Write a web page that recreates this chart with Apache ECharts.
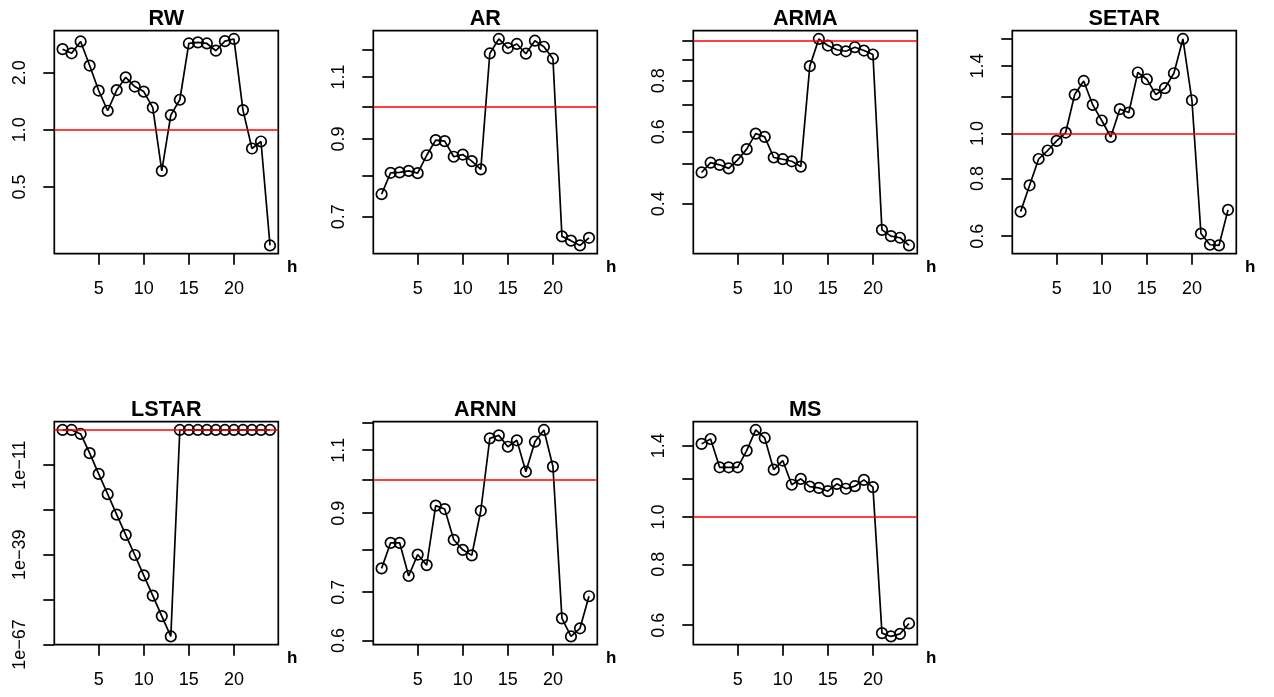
<!DOCTYPE html>
<html><head><meta charset="utf-8">
<script src="https://cdn.jsdelivr.net/npm/echarts@6/dist/echarts.min.js"></script>
<style>html,body{margin:0;padding:0;background:#fff}#c{width:1274px;height:697px}</style>
</head><body><div id="c"></div>
<script>
// ---- data ----
const h = [1,2,3,4,5,6,7,8,9,10,11,12,13,14,15,16,17,18,19,20,21,22,23,24];
const rw    = [2.66,2.53,2.92,2.18,1.61,1.26,1.62,1.89,1.69,1.59,1.31,0.608,1.195,1.44,2.85,2.89,2.85,2.61,2.93,3.01,1.27,0.797,0.868,0.246];
const ar    = [0.753,0.807,0.808,0.812,0.806,0.854,0.897,0.894,0.850,0.856,0.838,0.816,1.187,1.244,1.208,1.224,1.186,1.237,1.213,1.167,0.657,0.648,0.638,0.654];
const arma  = [0.477,0.504,0.498,0.488,0.512,0.544,0.594,0.583,0.519,0.514,0.508,0.493,0.869,1.013,0.976,0.953,0.945,0.967,0.949,0.928,0.345,0.333,0.330,0.316];
const setar = [0.678,0.773,0.881,0.919,0.964,1.005,1.214,1.299,1.153,1.067,0.983,1.129,1.110,1.355,1.310,1.214,1.253,1.350,1.601,1.180,0.608,0.575,0.573,0.684];
const lstar = [1,1,0.056,5.6e-8,1.9e-14,8.4e-21,3.6e-27,1.6e-33,8.7e-40,3.8e-46,1.7e-52,7.2e-59,3.1e-65,1,1,1,1,1,1,1,1,1,1,1];
const arnn  = [0.755,0.819,0.819,0.737,0.789,0.763,0.922,0.912,0.827,0.801,0.787,0.907,1.142,1.153,1.112,1.135,1.027,1.130,1.173,1.044,0.644,0.608,0.624,0.691];
const ms    = [1.413,1.446,1.265,1.265,1.265,1.369,1.509,1.453,1.251,1.306,1.165,1.198,1.155,1.148,1.130,1.170,1.143,1.157,1.192,1.152,0.578,0.569,0.576,0.605];

const titles = ['RW','AR','ARMA','SETAR','LSTAR','ARNN','MS'];
const xTicks = [5,10,15,20];
const rwTicks = [0.5,1,2],                      rwLabels = [0.5,1,2];
const arTicks = [0.7,0.8,0.9,1.0,1.1,1.2],      arLabels = [0.7,0.9,1.1];
const armaTicks = [0.4,0.5,0.6,0.7,0.8,0.9,1.0], armaLabels = [0.4,0.6,0.8];
const setarTicks = [0.6,0.8,1.0,1.2,1.4,1.6],   setarLabels = [0.6,0.8,1.0,1.4];
const lstarTicks = [1e-67,1e-53,1e-39,1e-25,1e-11], lstarLabels = [1e-67,1e-39,1e-11];
const arnnTicks = [0.6,0.7,0.8,0.9,1.0,1.1,1.2], arnnLabels = [0.6,0.7,0.9,1.1];
const msTicks = [0.6,0.8,1.0,1.2,1.4],          msLabels = [0.6,0.8,1.0,1.4];
const refValue = 1;
const xLabelName = 'h';

// ---- layout & style ----
const FONT = '"Liberation Sans", Arial, Helvetica, sans-serif';
const colLeft = [54.3, 373.3, 693.3, 1012.3];
const rowTop = [30.7, 421.7];
const boxW = 224, boxH = 223;
const LW = 1.7;

const decFmt = v => (+v).toFixed(1);
const expFmt = v => '1e\u2212' + Math.round(-Math.log10(v));

const panels = [
  {vals: rw, ticks: rwTicks, labels: rwLabels, fmt: decFmt},
  {vals: ar, ticks: arTicks, labels: arLabels, fmt: decFmt},
  {vals: arma, ticks: armaTicks, labels: armaLabels, fmt: decFmt},
  {vals: setar, ticks: setarTicks, labels: setarLabels, fmt: decFmt},
  {vals: lstar, ticks: lstarTicks, labels: lstarLabels, fmt: expFmt},
  {vals: arnn, ticks: arnnTicks, labels: arnnLabels, fmt: decFmt},
  {vals: ms, ticks: msTicks, labels: msLabels, fmt: decFmt}
];

// R-style 4% extension of the data range (in log space for y)
function logRange(vals){
  const l = vals.map(v => Math.log(v));
  const lo = Math.min(...l), hi = Math.max(...l), d = (hi - lo) * 0.04;
  return [Math.exp(lo - d), Math.exp(hi + d)];
}
const hSpan = h[h.length-1] - h[0];
const xMin = h[0] - 0.04 * hSpan, xMax = h[h.length-1] + 0.04 * hSpan;

const grids = [], xAxes = [], yAxes = [], series = [], graphics = [];
panels.forEach((p, i) => {
  const r = Math.floor(i / 4), c = i % 4;
  const L = colLeft[c], T = rowTop[r];
  grids.push({left: L, top: T, width: boxW, height: boxH, show: true,
    borderColor: '#000', borderWidth: LW, backgroundColor: 'transparent',
    containLabel: false, outerBoundsMode: 'none'});
  xAxes.push({gridIndex: i, type: 'value', min: xMin, max: xMax,
    axisLine: {show: false}, splitLine: {show: false},
    axisTick: {show: true, length: 11, customValues: xTicks, lineStyle: {color: '#000', width: LW}},
    axisLabel: {customValues: xTicks, margin: 26, fontSize: 18, color: '#000', fontFamily: FONT}});
  const lr = logRange(p.vals);
  yAxes.push({gridIndex: i, type: 'log', logBase: 10, min: lr[0], max: lr[1],
    axisLine: {show: false}, splitLine: {show: false}, minorTick: {show: false},
    axisTick: {show: true, length: 11, customValues: p.ticks, lineStyle: {color: '#000', width: LW}},
    axisLabel: {customValues: p.labels, rotate: 90, margin: 25, fontSize: 18, color: '#000',
      fontFamily: FONT, formatter: p.fmt}});
  series.push({type: 'line', xAxisIndex: i, yAxisIndex: i,
    data: h.map((x, k) => [x, p.vals[k]]),
    symbol: 'circle', symbolSize: 10.5, showAllSymbol: true,
    itemStyle: {color: 'rgba(0,0,0,0)', borderColor: '#000', borderWidth: LW},
    lineStyle: {color: '#000', width: LW},
    emphasis: {disabled: true},
    markLine: {silent: true, symbol: 'none', animation: false,
      label: {show: false},
      lineStyle: {color: '#ff0000', width: LW, type: 'solid'},
      data: [{yAxis: refValue}]}});
  graphics.push({type: 'text', x: L + boxW / 2, y: T - 11.5,
    style: {text: titles[i], align: 'center', verticalAlign: 'middle',
      font: 'bold 21.6px ' + FONT, fill: '#000'}});
  graphics.push({type: 'text', x: L + boxW + 14, y: T + boxH + 13.5,
    style: {text: xLabelName, align: 'center', verticalAlign: 'middle',
      font: 'bold 17px ' + FONT, fill: '#000'}});
});

const chart = echarts.init(document.getElementById('c'), null, {renderer: 'canvas'});
chart.setOption({
  animation: false,
  backgroundColor: '#fff',
  grid: grids, xAxis: xAxes, yAxis: yAxes, series: series,
  graphic: graphics
});
</script></body></html>
